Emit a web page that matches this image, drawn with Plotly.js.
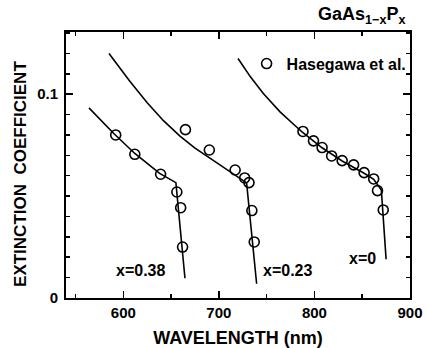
<!DOCTYPE html>
<html>
<head>
<meta charset="utf-8">
<script src="https://cdn.plot.ly/plotly-3.0.1.min.js"></script>
<style>html,body{margin:0;padding:0;background:#fff;}#chart{width:426px;height:348px;}</style>
</head>
<body>
<div id="chart"></div>
<script>
// Theory curves (wavelength nm, extinction coefficient)
const line038_x = [564, 576, 590, 612, 638, 655, 664.5];
const line038_y = [0.0933, 0.0873, 0.0807, 0.0709, 0.0611, 0.0566, 0.0097];
const line023_x = [585, 607, 625, 642, 659, 675, 691, 705, 719, 729, 739.5];
const line023_y = [0.1200, 0.1062, 0.0958, 0.0870, 0.0795, 0.0735, 0.0685, 0.0640, 0.0598, 0.0565, 0.0070];
const line0_x = [720, 733, 746.5, 764, 781, 787, 808, 829, 852, 862, 870, 875];
const line0_y = [0.1175, 0.1085, 0.1003, 0.0913, 0.0840, 0.0815, 0.0737, 0.0672, 0.0612, 0.0582, 0.0530, 0.0190];

// Hasegawa et al. data
const p038_x = [592, 612, 639, 656, 660, 662];
const p038_y = [0.0800, 0.0705, 0.0607, 0.0520, 0.0443, 0.0250];
const p023_x = [665, 690, 717, 727, 731.5, 734.5, 737];
const p023_y = [0.0826, 0.0726, 0.0628, 0.0589, 0.0566, 0.0429, 0.0275];
const p0_x = [788, 799, 808, 818, 829, 841, 852, 862, 866, 872];
const p0_y = [0.0817, 0.0771, 0.0738, 0.0697, 0.0674, 0.0653, 0.0615, 0.0584, 0.0527, 0.0432];

const labels = ["x=0.38", "x=0.23", "x=0"];
const labelX = [618, 772, 850];
const labelY = [0.0137, 0.0137, 0.0196];

const FONT = "Liberation Sans, Arial, sans-serif";
const F = (s) => ({family: FONT, size: s, color: "#000", weight: "bold"});
const lineStyle = {color: "#000", width: 1.6};
const markerStyle = {symbol: "circle-open", size: 10, color: "#000", line: {width: 1.6, color: "#000"}};

const traces = [
  {x: line038_x, y: line038_y, mode: "lines", line: lineStyle, showlegend: false, hoverinfo: "skip"},
  {x: line023_x, y: line023_y, mode: "lines", line: lineStyle, showlegend: false, hoverinfo: "skip"},
  {x: line0_x, y: line0_y, mode: "lines", line: lineStyle, showlegend: false, hoverinfo: "skip"},
  {x: p038_x, y: p038_y, mode: "markers", marker: markerStyle, name: "Hasegawa et al.", legendgroup: "h", showlegend: true},
  {x: p023_x, y: p023_y, mode: "markers", marker: markerStyle, name: "Hasegawa et al.", legendgroup: "h", showlegend: false},
  {x: p0_x, y: p0_y, mode: "markers", marker: markerStyle, name: "Hasegawa et al.", legendgroup: "h", showlegend: false}
];

const annotations = labels.map((t, i) => ({
  x: labelX[i], y: labelY[i], xref: "x", yref: "y", text: t, showarrow: false,
  font: F(16), xanchor: "center", yanchor: "middle"
}));
annotations.push({
  x: 0.991, y: 1.063, xref: "paper", yref: "paper", xanchor: "right", yanchor: "middle",
  text: "GaAs<sub>1\u2212x</sub>P<sub>x</sub>", showarrow: false,
  font: F(18)
});
// y-axis title (placed as rotated text, centred slightly below the plot centre as in the original)
annotations.push({
  x: -0.134, y: 0.466, xref: "paper", yref: "paper", xanchor: "center", yanchor: "middle",
  text: "EXTINCTION  COEFFICIENT", textangle: -90, showarrow: false,
  font: F(17)
});

const layout = {
  width: 426, height: 348,
  margin: {l: 66, r: 16, t: 32, b: 50, pad: 0},
  paper_bgcolor: "#fff", plot_bgcolor: "#fff",
  font: F(15),
  showlegend: true,
  legend: {x: 0.525, y: 0.945, xanchor: "left", yanchor: "top", bgcolor: "rgba(0,0,0,0)",
           font: F(16), borderwidth: 0},
  xaxis: {
    range: [540, 900], tickvals: [600, 700, 800, 900], ticktext: ["600", "700", "800", "900"],
    ticks: "inside", ticklen: 7, tickwidth: 1.5, tickcolor: "#000",
    minor: {tickvals: [550, 650, 750, 850], ticks: "inside", ticklen: 4, tickwidth: 1.5, tickcolor: "#000"},
    showline: true, linewidth: 2, linecolor: "#000", mirror: "allticks",
    showgrid: false, zeroline: false,
    title: {text: "WAVELENGTH (nm)", font: F(18), standoff: 12},
    tickfont: F(15)
  },
  yaxis: {
    range: [0, 0.1305], tickvals: [0, 0.1], ticktext: ["0", "0.1"],
    ticks: "inside", ticklen: 7, tickwidth: 1.5, tickcolor: "#000",
    minor: {dtick: 0.01, ticks: "inside", ticklen: 4, tickwidth: 1.5, tickcolor: "#000"},
    showline: true, linewidth: 2, linecolor: "#000", mirror: "allticks",
    showgrid: false, zeroline: false, ticklabelstandoff: 3,
    tickfont: F(15)
  },
  annotations: annotations
};

Plotly.newPlot("chart", traces, layout, {displayModeBar: false, staticPlot: true});
</script>
</body>
</html>
